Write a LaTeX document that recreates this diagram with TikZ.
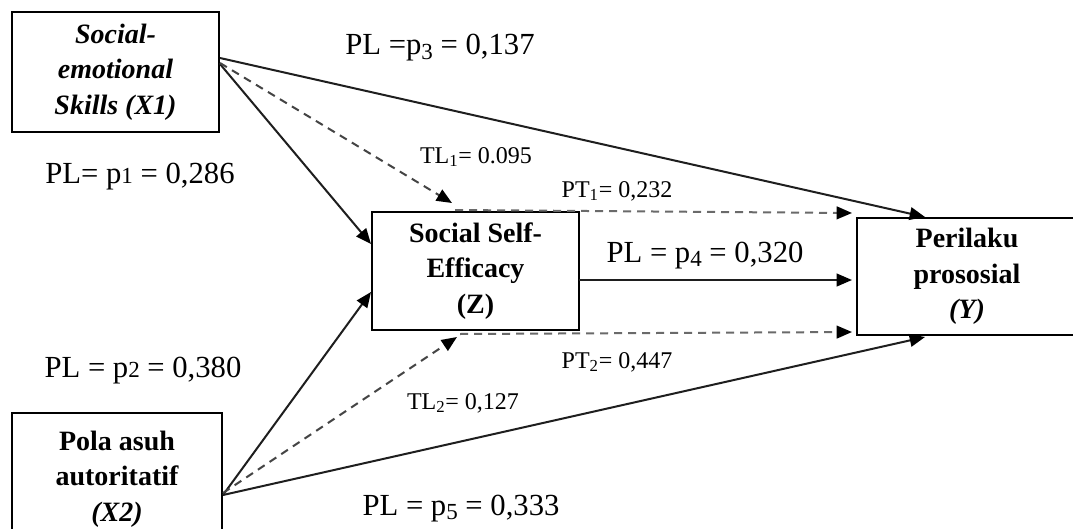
\documentclass[tikz,border=0pt]{standalone}
\usepackage{fontspec}
\setmainfont{Liberation Serif}
\usepackage{graphicx}
\usetikzlibrary{arrows.meta}
\newcommand\osa[1]{\scalebox{0.75}{#1}}
\newcommand\osb[1]{\raisebox{-0.3ex}{\scalebox{0.75}{#1}}}
\definecolor{ln}{HTML}{1E1E1E}
\definecolor{dsh}{HTML}{6A6A6A}
\definecolor{dshd}{HTML}{444444}
\tikzset{
  box/.style={draw=black, line width=1.4pt, inner sep=0pt, align=center,
    font=\fontsize{21}{26.5}\selectfont\bfseries},
  solidarr/.style={draw=ln, line width=1.5pt, -{Triangle[length=11.5pt,width=9.5pt,color=black]}},
  dasharr/.style={draw=dsh, line width=1.5pt, dash pattern=on 6pt off 4.5pt,
    -{Triangle[length=11.5pt,width=9.5pt,color=black]}},
  tlarr/.style={dasharr, draw=dshd},
  biglbl/.style={font=\fontsize{23}{27}\selectfont, anchor=base, inner sep=0pt},
  smalllbl/.style={font=\fontsize{18}{22}\selectfont, anchor=base, inner sep=0pt},
}
\begin{document}
\begin{tikzpicture}[x=0.75pt,y=-0.75pt]
\clip (0,0) rectangle (1073,528);
\fill[white] (0,0) rectangle (1073,528);

% boxes
\node[box, minimum width=207*0.75pt, minimum height=120*0.75pt] (X1) at (115.5,72)
  {\itshape Social-\\\itshape emotional\\\itshape Skills (X1)};
\node[box, minimum width=210*0.75pt, minimum height=132*0.75pt] (X2) at (117,479)
  {Pola asuh\\autoritatif\\\textit{(X2)}};
\node[box, minimum width=207*0.75pt, minimum height=118*0.75pt] (Z) at (475.5,271)
  {Social Self-\\Efficacy\\(Z)};
\node[box, minimum width=220*0.75pt, minimum height=117*0.75pt] (Y) at (967,276.5)
  {Perilaku\\prososial\\\textit{(Y)}};

% connector end points
\coordinate (x1a) at (220,58);
\coordinate (x1b) at (220,63);
\coordinate (x1c) at (220,64);
\coordinate (x2a) at (223,495);
\coordinate (x2b) at (223,493);
\coordinate (zin1) at (371,244);
\coordinate (zin2) at (371,292);
\coordinate (ztl1) at (452,203);
\coordinate (ztl2) at (457,337);
\coordinate (zt) at (455,210);
\coordinate (zb) at (460,334);
\coordinate (zr) at (579,280);
\coordinate (ytop) at (925,217);
\coordinate (ybot) at (925,337);
\coordinate (yl1) at (852,213);
\coordinate (yl2) at (852,280);
\coordinate (yl3) at (852,332);

% solid paths
\draw[solidarr] (x1a) -- (ytop);
\draw[solidarr] (x1c) -- (zin1);
\draw[solidarr] (x2a) -- (zin2);
\draw[solidarr] (x2a) -- (ybot);
\draw[solidarr] (zr) -- (yl2);

% dashed paths
\draw[tlarr] (x1b) -- (ztl1);
\draw[tlarr] (x2b) -- (ztl2);
\draw[dasharr] (zt) -- (yl1);
\draw[dasharr] (zb) -- (yl3);

% labels
\node[biglbl] (lp3) at (440,55) {PL =p\osb{3} = 0,137};
\node[biglbl] (lp1) at (140,183) {PL= p\osa{1} = 0,286};
\node[biglbl] (lp2) at (143,377) {PL = p\osa{2} = 0,380};
\node[biglbl] (lp4) at (705,262) {PL = p\osb{4} = 0,320};
\node[biglbl] (lp5) at (461,515) {PL = p\osb{5} = 0,333};
\node[smalllbl] (ltl1) at (476,163) {TL\textsubscript{1}= 0.095};
\node[smalllbl] (ltl2) at (463,409) {TL\textsubscript{2}= 0,127};
\node[smalllbl] (lpt1) at (617,197) {PT\textsubscript{1}= 0,232};
\node[smalllbl] (lpt2) at (617,368) {PT\textsubscript{2}= 0,447};
\end{tikzpicture}
\end{document}
